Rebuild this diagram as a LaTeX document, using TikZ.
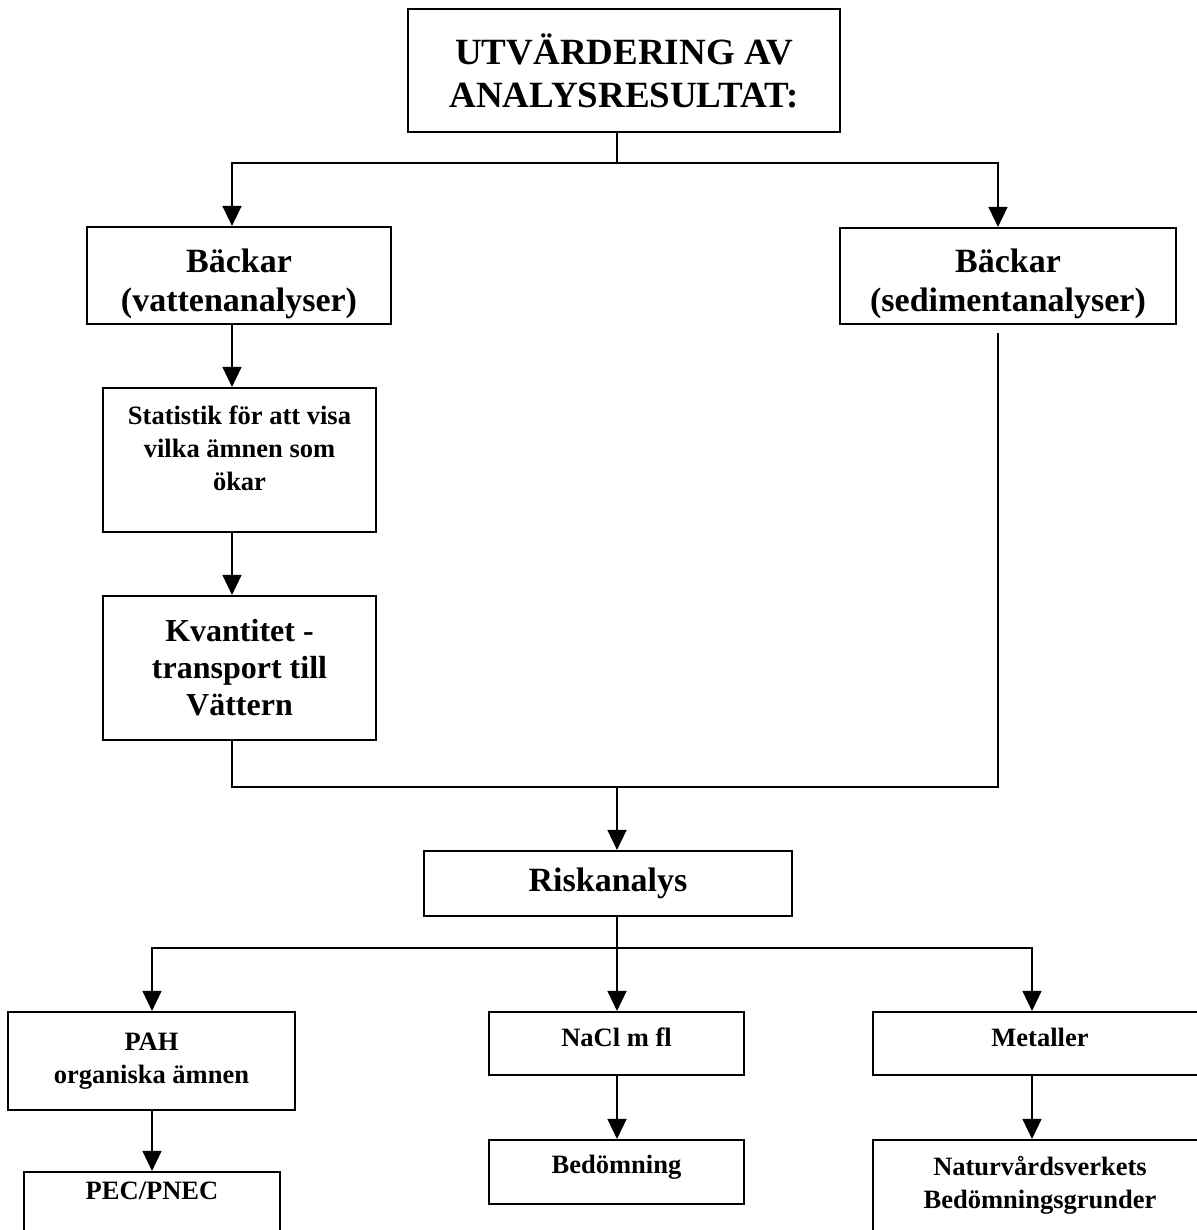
\documentclass[tikz,border=0pt]{standalone}
\usepackage{fontspec}
\setmainfont{Liberation Serif}
\usetikzlibrary{arrows.meta}
\tikzset{
  box/.style={draw,line width=2.2bp,align=center,inner sep=0pt},
  hugetext/.style={font=\fontsize{37bp}{43bp}\selectfont\bfseries},
  bigtext/.style={font=\fontsize{34bp}{39bp}\selectfont\bfseries},
  midtext/.style={font=\fontsize{32bp}{37bp}\selectfont\bfseries},
  smalltext/.style={font=\fontsize{26.5bp}{33bp}\selectfont\bfseries},
}
\begin{document}
\begin{tikzpicture}[x=1bp,y=-1bp,>={Triangle[length=20bp,width=19bp]},line width=1.6bp]
\useasboundingbox (0,0) rectangle (1197,1230);
%%
\node (top) at (624,70.5) [box,hugetext,minimum width=432bp,minimum height=123bp] {UTVÄRDERING AV\\ANALYSRESULTAT:};
  \node (vatten) at (239,275.5) [box,bigtext,minimum width=304bp,minimum height=97bp] {\rule{0pt}{40bp}Bäckar\\(vattenanalyser)};
  \node (sediment) at (1008,276) [box,bigtext,minimum width=336bp,minimum height=96bp] {\rule{0pt}{40bp}Bäckar\\(sedimentanalyser)};
  \node (statistik) at (239.5,460) [box,smalltext,minimum width=273bp,minimum height=144bp] {Statistik för att visa\\vilka ämnen som\\ökar\\[-9bp]~};
  \node (kvantitet) at (239.5,668) [box,midtext,minimum width=273bp,minimum height=144bp] {Kvantitet -\\transport till\\Vättern};
  \node (risk) at (608,883.5) [box,bigtext,minimum width=368bp,minimum height=65bp] {Riskanalys};
  \node (pah) at (151.5,1061) [box,smalltext,minimum width=287bp,minimum height=98bp] {PAH\\organiska ämnen};
  \node (nacl) at (616.5,1043.5) [box,smalltext,minimum width=255bp,minimum height=63bp,text depth=12bp] {NaCl m fl};
  \node (metaller) at (1040,1043.5) [box,smalltext,minimum width=334bp,minimum height=63bp,text depth=12bp] {Metaller};
  \node (pec) at (152,1204) [box,smalltext,minimum width=256bp,minimum height=64bp,text depth=26bp] {PEC/PNEC};
  \node (bedomning) at (616.5,1172) [box,smalltext,minimum width=255bp,minimum height=64bp,text depth=16bp] {Bedömning};
  \node (naturvard) at (1040,1188) [box,smalltext,minimum width=334bp,minimum height=96bp] {Naturvårdsverkets\\Bedömningsgrunder\\[-21bp]~};
%
\coordinate (xl) at (232,0);
  \coordinate (xr) at (998,0);
  \coordinate (xm) at (617,0);
  \coordinate (xp) at (152,0);
  \coordinate (xn) at (1032,0);
  \coordinate (fork1) at (617,163);
  \coordinate (merge) at (617,787);
  \coordinate (fork2) at (617,948);
%
\draw (top.south -| xm) -- (fork1);
  \draw [->] (fork1) -| (vatten.north -| xl);
  \draw [->] (fork1) -| (sediment.north -| xr);
  \draw [->] (vatten.south -| xl) -- (statistik.north -| xl);
  \draw [->] (statistik.south -| xl) -- (kvantitet.north -| xl);
  \draw (kvantitet.south -| xl) |- (merge) -| ([yshift=-8bp]sediment.south -| xr);
  \draw [->] (merge) -- (risk.north -| xm);
  \draw (risk.south -| xm) -- (fork2);
  \draw [->] (fork2) -| (pah.north -| xp);
  \draw [->] (fork2) -- (nacl.north -| xm);
  \draw [->] (fork2) -| (metaller.north -| xn);
  \draw [->] (pah.south -| xp) -- (pec.north -| xp);
  \draw [->] (nacl.south -| xm) -- (bedomning.north -| xm);
  \draw [->] (metaller.south -| xn) -- (naturvard.north -| xn);
%
\end{tikzpicture}
\end{document}
